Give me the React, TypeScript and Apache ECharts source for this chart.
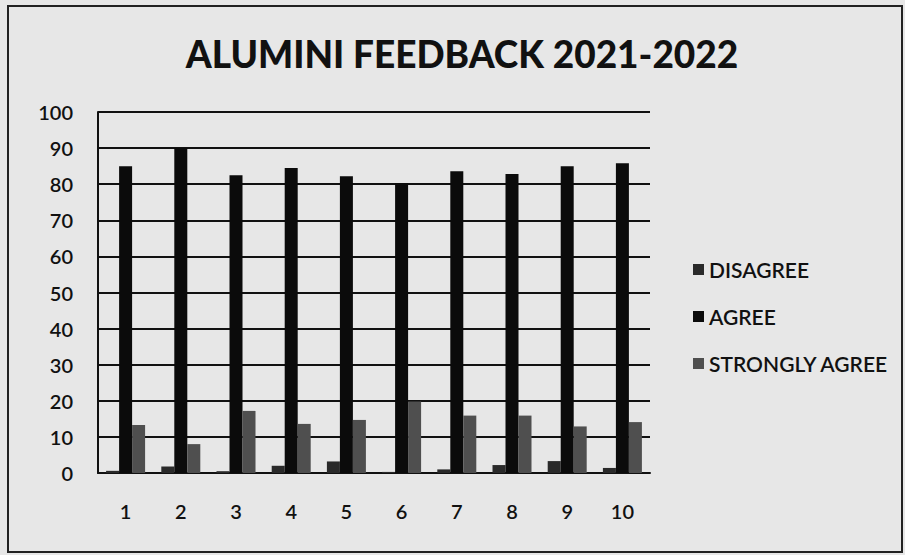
import React, { useEffect, useRef } from "react";
import * as echarts from "echarts";

const categories = ["1", "2", "3", "4", "5", "6", "7", "8", "9", "10"];
const disagree = [0.6, 1.8, 0.5, 2, 3.2, 0.3, 1, 2.2, 3.3, 1.4];
const agree = [85, 90, 82.5, 84.5, 82.2, 80.3, 83.6, 82.8, 85, 85.8];
const stronglyAgree = [13.3, 8, 17.2, 13.6, 14.7, 19.8, 15.9, 15.9, 12.9, 14.1];
const seriesNames = ["DISAGREE", "AGREE", "STRONGLY AGREE"];
const title = "ALUMINI FEEDBACK 2021-2022";

export default function App() {
  const ref = useRef<HTMLDivElement>(null);
  useEffect(() => {
    if (!ref.current) return;
    const chart = echarts.init(ref.current, undefined, { renderer: "svg" });
    const font = "Lato, 'Open Sans', sans-serif";
    const colors = ["#2a2a2a", "#0b0b0b", "#4f4f4f"];
    const datasets = [disagree, agree, stronglyAgree];
    chart.setOption({
      animation: false,
      backgroundColor: "#e7e7e7",
      title: {
        text: title,
        left: 462,
        textAlign: "center",
        top: 35,
        padding: 0,
        textStyle: { fontFamily: font, fontWeight: 900, fontSize: 37, color: "#111", letterSpacing: 4 },
      },
      graphic: [
        {
          type: "rect",
          shape: { x: 8, y: 6, width: 894, height: 546 },
          style: { fill: "none", stroke: "#222", lineWidth: 2 },
          silent: true,
        },
      ],
      legend: {
        orient: "vertical",
        left: 688,
        top: 254,
        itemWidth: 11,
        itemHeight: 11,
        itemGap: 26,
        icon: "rect",
        data: seriesNames,
        textStyle: { fontFamily: font, fontSize: 21, fontWeight: 600, color: "#111", lineHeight: 20, padding: [0, 0, 0, 0] },
      },
      grid: { left: 98, right: 255, top: 112, bottom: 82, containLabel: false },
      xAxis: {
        type: "category",
        data: categories,
        axisLine: { show: true, lineStyle: { color: "#111", width: 2 } },
        axisTick: { show: false },
        axisLabel: { fontFamily: font, fontSize: 20, fontWeight: 600, color: "#111", margin: 28 },
      },
      yAxis: {
        type: "value",
        min: 0,
        max: 100,
        interval: 10,
        axisLine: { show: true, lineStyle: { color: "#111", width: 2 } },
        axisTick: { show: false },
        axisLabel: { fontFamily: font, fontSize: 20, fontWeight: 600, color: "#111", margin: 25 },
        splitLine: { show: true, lineStyle: { color: "#111", width: 2 } },
      },
      series: seriesNames.map((name, i) => ({
        name,
        type: "bar",
        data: datasets[i],
        barWidth: 13,
        barGap: "0%",
        itemStyle: { color: colors[i] },
      })),
    });
    return () => chart.dispose();
  }, []);
  return <div ref={ref} style={{ position: "fixed", left: 0, top: 0, width: 905, height: 555 }} />;
}
